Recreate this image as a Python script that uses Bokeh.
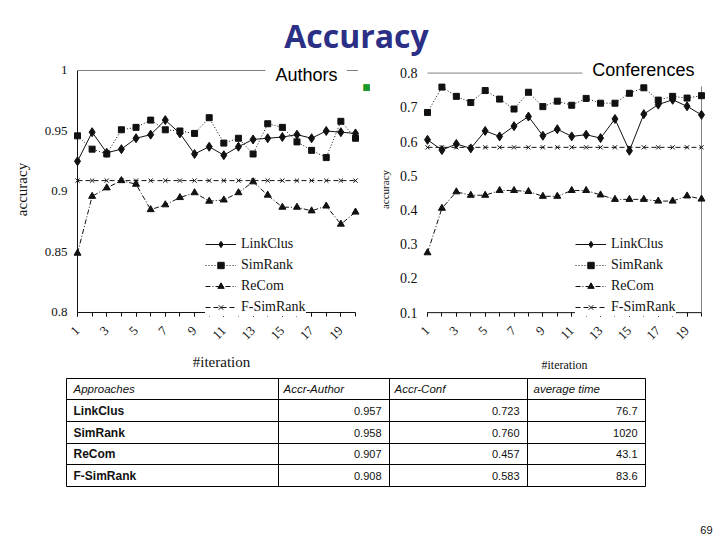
from math import pi
from bokeh.plotting import figure
from bokeh.layouts import column, row
from bokeh.models import (Range1d, FixedTicker, CustomJSTickFormatter,
                          Label, Legend, LegendItem, ColumnDataSource)
from bokeh.core.properties import value
from bokeh.embed import file_html
from bokeh.resources import INLINE

# ---------------- data ----------------
iterations = [1, 2, 3, 4, 5, 6, 7, 8, 9, 10, 11, 12, 13, 14, 15, 16, 17, 18, 19, 20]
x_ticks = [1, 3, 5, 7, 9, 11, 13, 15, 17, 19]
series_names = ["LinkClus", "SimRank", "ReCom", "F-SimRank"]

authors_linkclus = [0.925, 0.949, 0.932, 0.935, 0.944, 0.947, 0.959, 0.948, 0.931, 0.937,
                    0.930, 0.937, 0.943, 0.944, 0.945, 0.947, 0.944, 0.950, 0.949, 0.948]
authors_simrank = [0.946, 0.935, 0.931, 0.951, 0.953, 0.959, 0.951, 0.950, 0.948, 0.961,
                   0.940, 0.944, 0.931, 0.956, 0.953, 0.941, 0.934, 0.928, 0.958, 0.944]
authors_recom = [0.849, 0.896, 0.903, 0.909, 0.906, 0.885, 0.889, 0.895, 0.899, 0.892,
                 0.893, 0.899, 0.908, 0.897, 0.887, 0.887, 0.884, 0.888, 0.873, 0.883]
authors_fsimrank = [0.909, 0.909, 0.909, 0.909, 0.909, 0.909, 0.909, 0.909, 0.909, 0.909,
                    0.909, 0.909, 0.909, 0.909, 0.909, 0.909, 0.909, 0.909, 0.909, 0.909]

conf_linkclus = [0.605, 0.575, 0.593, 0.580, 0.631, 0.615, 0.645, 0.673, 0.617, 0.636,
                 0.615, 0.620, 0.610, 0.666, 0.573, 0.680, 0.708, 0.722, 0.703, 0.678]
conf_simrank = [0.685, 0.759, 0.732, 0.714, 0.749, 0.724, 0.695, 0.744, 0.702, 0.718,
                0.706, 0.726, 0.712, 0.712, 0.741, 0.757, 0.721, 0.732, 0.727, 0.734]
conf_recom = [0.275, 0.405, 0.453, 0.443, 0.443, 0.457, 0.457, 0.454, 0.440, 0.440,
              0.457, 0.457, 0.444, 0.431, 0.431, 0.431, 0.426, 0.426, 0.441, 0.432]
conf_fsimrank = [0.583, 0.583, 0.583, 0.583, 0.583, 0.583, 0.583, 0.583, 0.583, 0.583,
                 0.583, 0.583, 0.583, 0.583, 0.583, 0.583, 0.583, 0.583, 0.583, 0.583]

y_ticks_authors = [0.8, 0.85, 0.9, 0.95, 1.0]
y_ticks_conf = [0.1, 0.2, 0.3, 0.4, 0.5, 0.6, 0.7, 0.8]

table_headers = ["Approaches", "Accr-Author", "Accr-Conf", "average time"]
table_approaches = ["LinkClus", "SimRank", "ReCom", "F-SimRank"]
table_accr_author = [0.957, 0.958, 0.907, 0.908]
table_accr_conf = [0.723, 0.760, 0.457, 0.583]
table_avg_time = [76.7, 1020, 43.1, 83.6]

page_number = "69"

# ---------------- styles ----------------
INK = "#111111"
GRAY = "#808080"
SERIF = "Liberation Serif"
SANS = "Liberation Sans"
styles = {
    "LinkClus": dict(dash="solid", marker="diamond", size=9),
    "SimRank": dict(dash="1 2", marker="square", size=6),
    "ReCom": dict(dash="5 2 1 2", marker="triangle", size=7),
    "F-SimRank": dict(dash="5 3", marker="x", size=6),
}


def style_chart(p, y_ticks, fmt_code, tick_font, axis_font, yl_standoff, xl_standoff):
    p.outline_line_color = None
    p.xgrid.visible = False
    p.ygrid.visible = False
    p.background_fill_color = "white"
    p.border_fill_color = "white"

    xa = p.xaxis[0]
    xa.ticker = FixedTicker(ticks=x_ticks, minor_ticks=iterations)
    xa.major_tick_out = 0
    xa.major_tick_in = 4
    xa.minor_tick_out = 0
    xa.minor_tick_in = 4
    xa.major_tick_line_color = INK
    xa.minor_tick_line_color = INK
    xa.axis_line_color = None
    xa.major_label_orientation = pi / 4
    xa.major_label_standoff = 12
    xa.major_label_text_font = SERIF
    xa.major_label_text_font_size = "13px"
    xa.major_label_text_color = INK
    xa.axis_label = "#iteration"
    xa.axis_label_text_font = SERIF
    xa.axis_label_text_font_style = "normal"
    xa.axis_label_text_font_size = axis_font[0]
    xa.axis_label_text_color = INK
    xa.axis_label_standoff = xl_standoff

    ya = p.yaxis[0]
    ya.ticker = FixedTicker(ticks=y_ticks)
    ya.formatter = CustomJSTickFormatter(code=fmt_code)
    ya.major_tick_out = 0
    ya.major_tick_in = 0
    ya.minor_tick_out = 0
    ya.minor_tick_in = 0
    ya.axis_line_color = None
    ya.major_label_standoff = 5
    ya.major_label_text_font = SERIF
    ya.major_label_text_font_size = tick_font
    ya.major_label_text_color = INK
    ya.axis_label = "accuracy"
    ya.axis_label_text_font = SERIF
    ya.axis_label_text_font_style = "normal"
    ya.axis_label_text_font_size = axis_font[1]
    ya.axis_label_text_color = INK
    ya.axis_label_standoff = yl_standoff


def draw_series(p, data, legend_loc):
    items = []
    for name, vals in zip(series_names, data):
        st = styles[name]
        lr = p.line(iterations, vals, line_color=INK, line_width=1, line_dash=st["dash"])
        sr = p.scatter(iterations, vals, marker=st["marker"], size=st["size"],
                       fill_color=INK, line_color=INK, line_width=1)
        items.append(LegendItem(label=name, renderers=[lr, sr]))
    leg = Legend(items=items, location=legend_loc, orientation="vertical",
                 padding=4, spacing=3, margin=0, label_height=18, glyph_height=16,
                 glyph_width=31, label_standoff=5,
                 label_text_font=SERIF, label_text_font_size="14px",
                 label_text_color=INK, background_fill_color="white",
                 background_fill_alpha=1.0, border_line_color=None)
    p.add_layout(leg)


W = 718
TITLE_H = 58
CHART_H = 376 - TITLE_H
x_first, x_last = iterations[0], iterations[-1]

# ---------------- title ----------------
pt = figure(width=W, height=TITLE_H, x_range=Range1d(0, W), y_range=Range1d(TITLE_H, 0),
            output_backend="svg", toolbar_location=None, min_border=0,
            x_axis_type=None, y_axis_type=None)
pt.outline_line_color = None
pt.text(x=[356], y=[35], text=["Accuracy"], text_align="center", text_baseline="middle",
        text_font=value("Open Sans"), text_font_style="bold", text_font_size="32px",
        text_color="#2b2f85")

# ---------------- left chart: Authors ----------------
# frame: x 72..370 px, y 62..316 px (0.8 -> 312 px, 1.0 -> 70 px)
pL = figure(width=370, height=CHART_H, x_range=Range1d(0.658, 21.025),
            y_range=Range1d(0.79669, 1.00661),
            output_backend="svg", toolbar_location=None,
            min_border_left=72, min_border_right=0, min_border_top=62 - TITLE_H,
            min_border_bottom=60)
style_chart(pL, y_ticks_authors, "return String(+tick.toFixed(2));", "13px",
            ("15px", "15px"), 12, 8)
yl0, yl1 = y_ticks_authors[0], y_ticks_authors[-1]
# plot-area lines: left axis, bottom axis, top border (broken by the "Authors" label)
pL.segment(x0=[x_first, x_first], y0=[yl0, yl0], x1=[x_first, x_last], y1=[yl1, yl0],
           line_color=INK, line_width=1)
pL.segment(x0=[x_first, 19.4], y0=[yl1, yl1], x1=[13.85, 20.17], y1=[yl1, yl1],
           line_color=GRAY, line_width=1)
draw_series(pL, [authors_linkclus, authors_simrank, authors_recom, authors_fsimrank],
            (133, 0))
pL.add_layout(Label(x=14.53, y=0.9959, text="Authors", text_align="left",
                    text_baseline="middle", text_font=SANS, text_font_size="18px",
                    text_color="black"))
pL.add_layout(Label(x=20.75, y=0.986, text="\u25A0", text_align="center",
                    text_baseline="middle", text_font="DejaVu Sans", text_font_size="9px",
                    text_color="#1a9a2a"))

# ---------------- right chart: Conferences ----------------
# frame: x 422..706 px, y 58..322 px (0.1 -> 318 px, 0.8 -> 69 px)
pR = figure(width=W - 370, height=CHART_H, x_range=Range1d(0.653, 20.347),
            y_range=Range1d(0.08875, 0.83093),
            output_backend="svg", toolbar_location=None,
            min_border_left=52, min_border_right=W - 706, min_border_top=0,
            min_border_bottom=54)
style_chart(pR, y_ticks_conf, "return tick.toFixed(1);", "14px",
            ("12px", "11px"), 6, 12)
yr0, yr1 = y_ticks_conf[0], y_ticks_conf[-1]
pR.segment(x0=[x_first], y0=[yr0], x1=[x_last], y1=[yr0], line_color=INK, line_width=1)
pR.segment(x0=[x_first, x_last], y0=[yr1, yr0], x1=[11.74, x_last], y1=[yr1, 0.761],
           line_color=GRAY, line_width=1)
draw_series(pR, [conf_linkclus, conf_simrank, conf_recom, conf_fsimrank], (153, 0))
pR.add_layout(Label(x=12.43, y=0.8098, text="Conferences", text_align="left",
                    text_baseline="middle", text_font=SANS, text_font_size="18px",
                    text_color="black"))

# ---------------- table ----------------
TOP = 376
TH = 162
ptab = figure(width=W, height=TH, x_range=Range1d(0, W), y_range=Range1d(TH, 0),
              output_backend="svg", toolbar_location=None, min_border=0,
              x_axis_type=None, y_axis_type=None)
ptab.outline_line_color = None

col_edges = [66, 278, 389, 527, 645]
row_edges = [378 - TOP, 399 - TOP, 421 - TOP, 443 - TOP, 464 - TOP, 486 - TOP]

hx0 = [col_edges[0]] * len(row_edges)
hx1 = [col_edges[-1]] * len(row_edges)
ptab.segment(x0=hx0, y0=row_edges, x1=hx1, y1=row_edges, line_color="black", line_width=1)
vy0 = [row_edges[0]] * len(col_edges)
vy1 = [row_edges[-1]] * len(col_edges)
ptab.segment(x0=col_edges, y0=vy0, x1=col_edges, y1=vy1, line_color="black", line_width=1)

row_centers = [(a + b) / 2 for a, b in zip(row_edges[:-1], row_edges[1:])]
head_pad = [7, 5, 5, 6]
head_src = ColumnDataSource(dict(x=[c + d for c, d in zip(col_edges[:-1], head_pad)],
                                 y=[row_centers[0]] * 4, t=table_headers))
ptab.text(x="x", y="y", text="t", source=head_src, text_font=value(SANS),
          text_font_style="italic", text_font_size="11.5px", text_color=INK,
          text_baseline="middle", text_align="left")

name_src = ColumnDataSource(dict(x=[col_edges[0] + 7] * 4, y=row_centers[1:],
                                 t=table_approaches))
ptab.text(x="x", y="y", text="t", source=name_src, text_font=value(SANS),
          text_font_style="bold", text_font_size="12px", text_color=INK,
          text_baseline="middle", text_align="left")

vx, vyy, vt = [], [], []
cols = [[f"{v:.3f}" for v in table_accr_author],
        [f"{v:.3f}" for v in table_accr_conf],
        [f"{v:g}" for v in table_avg_time]]
for ci, colvals in enumerate(cols):
    for ri, t in enumerate(colvals):
        vx.append(col_edges[ci + 2] - 8)
        vyy.append(row_centers[ri + 1])
        vt.append(t)
val_src = ColumnDataSource(dict(x=vx, y=vyy, t=vt))
ptab.text(x="x", y="y", text="t", source=val_src, text_font=value(SANS),
          text_font_size="11px", text_color=INK, text_baseline="middle", text_align="right")

ptab.text(x=[712], y=[529 - TOP], text=[page_number], text_align="right",
          text_baseline="middle", text_font=value(SANS), text_font_size="11px",
          text_color=INK)

layout = column(pt, row(pL, pR, spacing=0), ptab, spacing=0)

with open("out.html", "w") as f:
    f.write(file_html(layout, INLINE))
